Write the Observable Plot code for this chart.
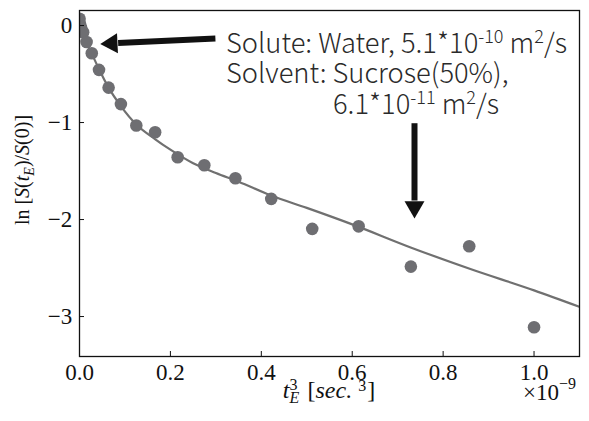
<!DOCTYPE html>
<html><head><meta charset="utf-8">
<script src="https://cdn.jsdelivr.net/npm/d3@7"></script>
<script src="https://cdn.jsdelivr.net/npm/@observablehq/plot@0.6"></script>
<style>
html,body{margin:0;padding:0;background:#fff;}
#chart{position:relative;width:589px;height:421px;}
</style></head><body><div id="chart"></div>
<script>
// measured points: t_E^3 (x 1e-9 s^3) and ln[S(tE)/S(0)]
const tE3 = [0, 0.000125, 0.001, 0.0034, 0.008, 0.0156, 0.027, 0.0429, 0.064, 0.0911, 0.125, 0.1664, 0.216, 0.2746, 0.343, 0.4219, 0.512, 0.6141, 0.729, 0.8574, 1.0];
const lnS = [0, 0.07, 0.02, -0.02, -0.07, -0.17, -0.285, -0.457, -0.64, -0.81, -1.03, -1.10, -1.358, -1.44, -1.574, -1.787, -2.096, -2.07, -2.485, -2.275, -3.11];
// fitted curve
const fitX = [0, 0.008, 0.016, 0.027, 0.043, 0.064, 0.091, 0.125, 0.166, 0.2, 0.25, 0.3, 0.35, 0.42, 0.5, 0.6, 0.73, 0.86, 1.0, 1.1];
const fitY = [0, -0.09, -0.18, -0.29, -0.45, -0.64, -0.83, -1.02, -1.17, -1.28, -1.42, -1.52, -1.61, -1.75, -1.88, -2.05, -2.29, -2.51, -2.73, -2.90];
// axis ticks
const xTicks = [0, 0.2, 0.4, 0.6, 0.8, 1.0];
const yTicks = [0, -1, -2, -3];
// annotation arrows (data coords)
const arrowTailX = [0.299, 0.737];
const arrowTailY = [-0.134, -1.007];
const arrowBaseX = [0.085, 0.737];
const arrowBaseY = [-0.18, -1.804];
const arrowHeadX = [0.0709, 0.737];
const arrowHeadY = [-0.185, -1.871];
const arrowAngle = [-92.7, 180];
// annotation text
const noteLines = [
  [["Solute: Water, 5.1*10", "n"], ["-10", "sup"], [" m", "n"], ["2", "sup"], ["/s", "n"]],
  [["Solvent: Sucrose(50%),", "n"]],
  [["6.1*10", "n"], ["-11", "sup"], [" m", "n"], ["2", "sup"], ["/s", "n"]]
];

const points = tE3.map((x, i) => ({x, y: lnS[i]}));
const fit = fitX.map((x, i) => ({x, y: fitY[i]}));
const arrows = arrowTailX.map((x, i) => ({x1: x, y1: arrowTailY[i], x2: arrowBaseX[i], y2: arrowBaseY[i], hx: arrowHeadX[i], hy: arrowHeadY[i], a: arrowAngle[i]}));

const plot = Plot.plot({
  width: 589, height: 421,
  marginLeft: 79, marginRight: 10, marginTop: 10, marginBottom: 65,
  style: {fontFamily: "'Liberation Serif', 'Times New Roman', serif", fontSize: "23px", color: "#111", background: "#fff", overflow: "visible"},
  x: {domain: [0, 1.1], label: null},
  y: {domain: [-3.412, 0.155], label: null},
  marks: [
    Plot.line(fit, {x: "x", y: "y", stroke: "#707070", strokeWidth: 2.2, curve: "monotone-x", clip: true}),
    Plot.dot(points, {x: "x", y: "y", r: 6.3, fill: "#6e6e72", stroke: "none", clip: true}),
    Plot.link(arrows, {x1: "x1", y1: "y1", x2: "x2", y2: "y2", stroke: "#111", strokeWidth: 6}),
    Plot.dot(arrows, {x: "hx", y: "hy", symbol: "triangle", r: 7.4, fill: "#111", stroke: "none", rotate: "a"}),
    Plot.axisX({ticks: xTicks, tickFormat: d3.format(".1f"), tickSize: -5, tickPadding: 11.7, stroke: "#111", fill: "#111", fontSize: 23, label: null}),
    Plot.axisY({ticks: yTicks, tickFormat: d => d === 0 ? "0" : "\u2212" + Math.abs(d), tickSize: -5, tickPadding: 12.3, stroke: "#111", fill: "#111", fontSize: 23, label: null}),
    Plot.frame({stroke: "#111", strokeWidth: 1.3})
  ]
});
document.getElementById("chart").appendChild(plot);

const svg = d3.select(plot);
const sx = plot.scale("x"), sy = plot.scale("y");
const g = svg.append("g").attr("text-anchor", "start");

function rich(parent, parts, base, attrs) {
  const t = parent.append("text").attr("font-size", base).attr("text-anchor", "start");
  for (const k in attrs) t.attr(k, attrs[k]);
  let shift = 0;
  for (const [s, kind] of parts) {
    const ts = t.append("tspan").text(s);
    let target = 0, fs = base;
    if (kind === "sup") { target = -0.36 * base; fs = base * 0.66; }
    if (kind === "i") ts.attr("font-style", "italic");
    ts.attr("font-size", fs).attr("dy", target - shift);
    shift = target;
  }
  return t;
}

// annotation
const noteFont = "'Noto Sans CJK JP', 'Noto Sans', sans-serif";
const noteX = [226, 226, 333];
const noteY = [52.7, 82.7, 114.3];
noteLines.forEach((parts, i) => {
  rich(g, parts, 27.3, {x: noteX[i], y: noteY[i], "font-family": noteFont, "font-weight": 300, fill: "#2a2a2a"});
});

// x label: t_E^3 [sec.^3]
const xl = g.append("text").attr("font-size", 24).attr("fill", "#111").attr("y", 398).attr("x", 0).attr("text-anchor", "start");
xl.append("tspan").text("t").attr("font-style", "italic");
const eSub = xl.append("tspan").text("E").attr("font-style", "italic").attr("font-size", 16).attr("dy", 5);
const three = xl.append("tspan").text("3").attr("font-size", 16).attr("dy", -13);
xl.append("tspan").text("[").attr("dy", 8).attr("dx", 10);
xl.append("tspan").text("sec.").attr("font-style", "italic");
xl.append("tspan").text("3").attr("font-size", 16).attr("dy", -7).attr("dx", 6);
xl.append("tspan").text("]").attr("dy", 7).attr("dx", 1);
const eW = eSub.node().getComputedTextLength();
three.attr("dx", -eW);
const xlW = xl.node().getComputedTextLength() - eW + 17;
xl.attr("x", (sx.apply(0) + sx.apply(1.1)) / 2 - xlW / 2);

// offset text ×10^-9
const off = g.append("text").attr("font-size", 23).attr("fill", "#111").attr("y", 400).attr("x", sx.apply(1.1) - 3).attr("text-anchor", "end");
off.append("tspan").text("\u00d710");
off.append("tspan").text("\u22129").attr("font-size", 16).attr("dy", -11);

// y label: ln [S(t_E)/S(0)]
const cy = 170, cx = 22;
const yl = g.append("text").attr("font-size", 20).attr("fill", "#111").attr("text-anchor", "middle")
  .attr("transform", `translate(${cx},${cy}) rotate(-90)`).attr("dy", "0.35em");
yl.append("tspan").text("ln [");
yl.append("tspan").text("S").attr("font-style", "italic");
yl.append("tspan").text("(");
yl.append("tspan").text("t").attr("font-style", "italic");
yl.append("tspan").text("E").attr("font-style", "italic").attr("font-size", 14).attr("dy", 5);
yl.append("tspan").text(")/").attr("dy", -5);
yl.append("tspan").text("S").attr("font-style", "italic");
yl.append("tspan").text("(0)]");
</script>
</body></html>
